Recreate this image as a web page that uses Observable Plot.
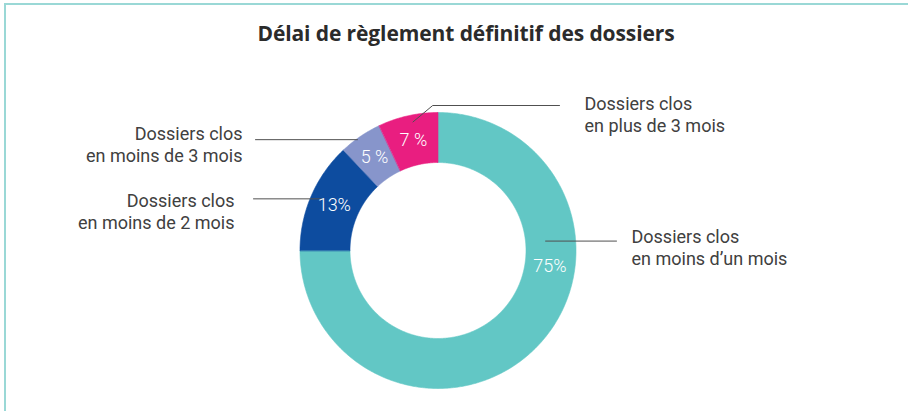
<!DOCTYPE html>
<html>
<head>
<meta charset="utf-8">
<script src="https://cdn.jsdelivr.net/npm/d3@7"></script>
<script src="https://cdn.jsdelivr.net/npm/@observablehq/plot@0.6"></script>
<style>
  html, body { margin: 0; padding: 0; background: #fff; }
  body { padding: 3px 0 0 4px; width: 904px; height: 408px; overflow: hidden; }
  #frame { border-top: 2px solid #9ad8d6; border-left: 2px solid #9ad8d6; width: 902px; height: 406px; }
  #title { height: 39px; padding-top: 15px; padding-left: 18px; text-align: center;
           font-family: "Open Sans", sans-serif; font-weight: 700; font-size: 21px; line-height: 26px;
           color: #2b2b2b; letter-spacing: -0.1px; box-sizing: content-box; }
  #chart svg { display: block; }
</style>
</head>
<body>
<div id="frame">
  <div id="title">Délai de règlement définitif des dossiers</div>
  <div id="chart"></div>
</div>
<script>
// ---- Data ----
const categories = [
  "Dossiers clos en moins d’un mois",
  "Dossiers clos en moins de 2 mois",
  "Dossiers clos en moins de 3 mois",
  "Dossiers clos en plus de 3 mois"
];
const values = [75, 13, 5, 7];
const valueLabels = ["75%", "13%", "5 %", "7 %"];
const legendLabels = [
  "Dossiers clos\nen moins d’un mois",
  "Dossiers clos\nen moins de 2 mois",
  "Dossiers clos\nen moins de 3 mois",
  "Dossiers clos\nen plus de 3 mois"
];

// ---- Styles / layout ----
const colors = ["#62c7c5", "#0d4c9f", "#8795cb", "#e91e80"];
const W = 902, H = 350;
const cx = 431.5, cy = 191, R = 138, r = 88;
const valueLabelRadius = 113;
// per-slice placement of value label angle (deg, clockwise from top); null = mid angle
const valueLabelAngle = [98, null, null, null];
// leader: polar start on ring, optional elbow, end x; text anchor
const leaders = [
  {angle: 85,  radius: 108, elbowY: null, endX: 610, textX: 625, textY: 187, anchor: "start"},
  {angle: 294, radius: 127, elbowY: null, endX: 247, textX: 228, textY: 151, anchor: "end"},
  {angle: 324, radius: 137, elbowY: null, endX: 249, textX: 236, textY: 84,  anchor: "end"},
  {angle: 349, radius: 131, elbowY: 46,   endX: 553, textX: 578, textY: 54,  anchor: "start"}
];

const rad = (deg) => deg * Math.PI / 180;
const polar = (a, rr) => ({x: cx + rr * Math.sin(a), y: cy - rr * Math.cos(a)});

const table = categories.map((c, i) => ({category: c, value: values[i], label: valueLabels[i], legend: legendLabels[i]}));
const arcs = d3.pie().sort(null).value(d => d.value)(table);

// ring polygons
const ringPoints = [];
arcs.forEach(a => {
  const n = Math.max(4, Math.ceil((a.endAngle - a.startAngle) / rad(0.5)));
  for (let k = 0; k <= n; k++) {
    const t = a.startAngle + (a.endAngle - a.startAngle) * k / n;
    ringPoints.push({category: a.data.category, ...polar(t, R)});
  }
  for (let k = n; k >= 0; k--) {
    const t = a.startAngle + (a.endAngle - a.startAngle) * k / n;
    ringPoints.push({category: a.data.category, ...polar(t, r)});
  }
});

// value labels
const valueText = arcs.map((a, i) => {
  const ang = valueLabelAngle[i] != null ? rad(valueLabelAngle[i]) : (a.startAngle + a.endAngle) / 2;
  return {label: a.data.label, ...polar(ang, valueLabelRadius)};
});

// leader lines
const leaderPoints = [];
leaders.forEach((l, i) => {
  const p = polar(rad(l.angle), l.radius);
  leaderPoints.push({id: i, ...p});
  const y = l.elbowY != null ? l.elbowY : p.y;
  if (l.elbowY != null) leaderPoints.push({id: i, x: p.x + (l.endX > p.x ? 1 : -1) * Math.abs(p.y - l.elbowY) * 1.2, y});
  leaderPoints.push({id: i, x: l.endX, y});
});
const legendText = leaders.map((l, i) => ({text: table[i].legend, x: l.textX, y: l.textY, anchor: l.anchor}));

const textStyle = {lineHeight: 1.22, fontSize: 18, fill: "#404040", fontFamily: "Roboto, sans-serif", fontWeight: 400};

const chart = Plot.plot({
  width: W,
  height: H,
  margin: 0,
  style: {fontFamily: "Roboto, sans-serif", background: "transparent"},
  x: {domain: [0, W], range: [0, W], axis: null},
  y: {domain: [0, H], range: [0, H], axis: null},
  color: {domain: categories, range: colors},
  marks: [
    Plot.line(ringPoints, {x: "x", y: "y", z: "category", fill: "category", stroke: "category", strokeWidth: 0.6, curve: "linear-closed"}),
    Plot.line(leaderPoints, {x: "x", y: "y", z: "id", stroke: "#505050", strokeWidth: 1}),
    Plot.text(valueText, {x: "x", y: "y", text: "label", fill: "white", fontSize: 18, fontWeight: 300, fontFamily: "Roboto, sans-serif"}),
    Plot.text(legendText.filter(d => d.anchor === "start"), {x: "x", y: "y", text: "text", textAnchor: "start", ...textStyle}),
    Plot.text(legendText.filter(d => d.anchor === "end"), {x: "x", y: "y", text: "text", textAnchor: "end", ...textStyle})
  ]
});
document.getElementById("chart").appendChild(chart);
</script>
</body>
</html>
